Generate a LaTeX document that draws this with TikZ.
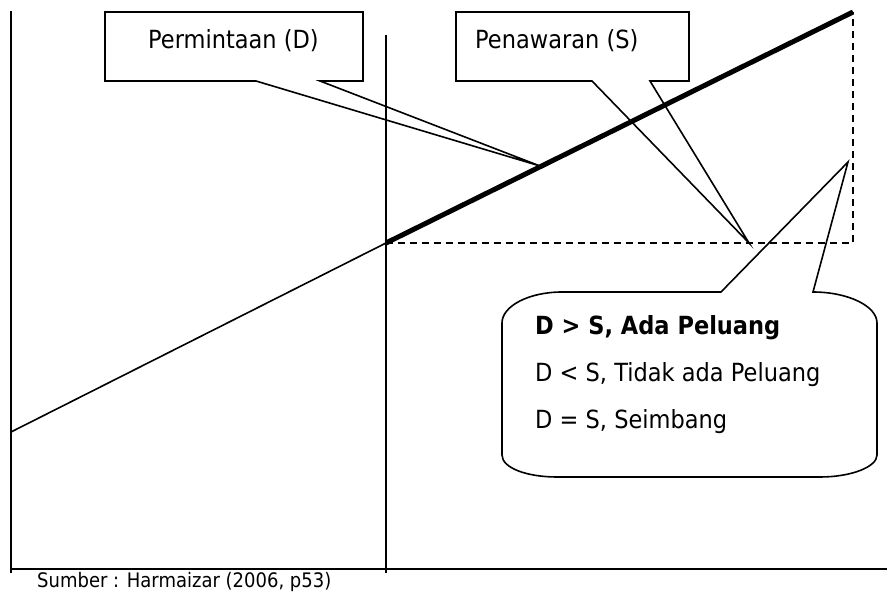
\documentclass[tikz,border=0pt]{standalone}
\usepackage{fontspec}
\setmainfont{DejaVu Sans}[FakeStretch=0.9]
\begin{document}
\begin{tikzpicture}[x=1pt,y=-1pt,
  ln/.style={line width=1.6pt, line cap=butt},
  thickln/.style={line width=5pt},
  dashln/.style={line width=1.6pt, dash pattern=on 7pt off 5pt},
  bigtext/.style={anchor=base west, inner sep=0pt, font=\fontsize{25}{30}\selectfont},
  smalltext/.style={anchor=base west, inner sep=0pt, font=\fontsize{20}{24}\selectfont}]
\useasboundingbox (0,0) rectangle (887,594);
% axes
\coordinate (yTop) at (11,11);
\coordinate (yBot) at (11,573);
\coordinate (xL) at (11,569);
\coordinate (xR) at (887,569);
\coordinate (mTop) at (386,35);
\coordinate (mBot) at (386,573);
\draw[ln] (yTop) -- (yBot);
\draw[ln] (xL) -- (xR);
\draw[ln] (mTop) -- (mBot);
% curve
\coordinate (A) at (11,432);
\coordinate (E) at (386,243);
\coordinate (T) at (853,12);
\coordinate (C) at (853,243);
\draw[ln] (A) -- (E);
\draw[dashln] (E) -- (C) -- (T);
\draw[thickln] (E) -- (T);
% Permintaan callout
\coordinate (dTip) at (540,166);
\draw[ln, line join=miter] (105,12) -- (363,12) -- (363,81) -- (320,81) -- (dTip) -- (256,81) -- (105,81) -- cycle;
\node[bigtext] (pd) at (148,49) {Permintaan (D)};
% Penawaran callout
\coordinate (sTip) at (749,243);
\draw[ln, line join=miter] (456,12) -- (689,12) -- (689,81) -- (650,81) -- (sTip) -- (592,81) -- (456,81) -- cycle;
\node[bigtext] (ps) at (475,49) {Penawaran (S)};
% rounded callout
\coordinate (rTip) at (848,162);
\draw[ln, line join=miter] (502,323) .. controls (502,306) and (529,292) .. (562,292) -- (721,292) -- (rTip) -- (813,292)
  .. controls (848,292) and (877,306) .. (877,323) -- (877,455)
  .. controls (877,467) and (851,477) .. (820,477) -- (557,477)
  .. controls (527,477) and (502,468) .. (502,455) -- cycle;
\node[bigtext, font=\fontsize{25}{30}\selectfont\bfseries] (l1) at (535,334) {D > S, Ada Peluang};
\node[bigtext] (l2) at (535,381) {D < S, Tidak ada Peluang};
\node[bigtext] (l3) at (535,428) {D = S, Seimbang};
% source
\node[smalltext] (src) at (37,587) {Sumber : Harmaizar (2006, p53)};
\end{tikzpicture}
\end{document}
